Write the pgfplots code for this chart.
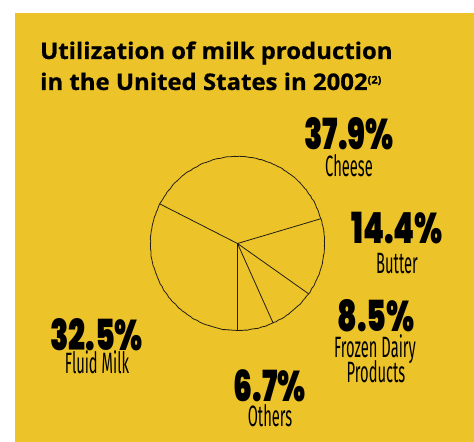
\documentclass[border=0pt]{standalone}
\usepackage{pgfplots}
\pgfplotsset{compat=1.18}
\usepackage{pgfplotstable}
\usepgfplotslibrary{polar}
\usetikzlibrary{decorations.pathmorphing}
\usepackage{fontspec}
\setmainfont{Open Sans}
\newfontfamily\titlefont{Open Sans}[BoldFeatures={FakeBold=0.6, FakeStretch=1.045}]
\newfontfamily\pctfont{Poppins Black}[FakeStretch=0.7]
\newfontfamily\lblfont{Fira Sans}[FakeStretch=0.5]
\definecolor{panel}{RGB}{236,195,41}
\definecolor{ink}{RGB}{35,30,20}
\newcommand{\pct}[1]{\smash{\pctfont\fontsize{43}{43}\selectfont #1}}
\newcommand{\lbl}[1]{\smash{\lblfont\fontsize{29.5}{30}\selectfont #1}}

% cumulative share (%) at each slice boundary, starting at 6 o'clock:
% Others 6.7, Frozen Dairy 8.5, Butter 14.4, Cheese 37.9, Fluid Milk 32.5
\pgfplotstableread{
cum r
0 1
0 0
6.7 1
6.7 0
15.2 1
15.2 0
29.6 1
29.6 0
67.5 1
}\boundaries

\begin{document}
\begin{tikzpicture}
\useasboundingbox (0,0) rectangle (474bp,442bp);
\fill[white] (0,0) rectangle (474bp,442bp);
\fill[panel] (15bp,0) rectangle (474bp,429bp);

\begin{polaraxis}[
  at={(237.5bp,198.5bp)}, anchor=center,
  width=174bp, height=174bp, scale only axis,
  xtick=\empty, ytick=\empty, grid=none,
  ymin=0, ymax=1,
  y axis line style={draw=none},
  x axis line style={draw=ink, line width=0.8pt, decorate,
    decoration={random steps, segment length=2.5pt, amplitude=0.35pt}},
  clip=false,
]
\addplot[no marks, draw=ink, line width=0.8pt, line join=round]
  table[x expr={-90+3.6*\thisrow{cum}}, y=r] {\boundaries};
\end{polaraxis}

\node[anchor=base west, inner sep=0] at (40bp,383bp)
  {\titlefont\bfseries\fontsize{23}{26}\selectfont Utilization of milk production};
\node[anchor=base west, inner sep=0] at (40bp,352bp)
  {\titlefont\bfseries\fontsize{23}{26}\selectfont in the United States in 2002\raisebox{6.5pt}{\fontsize{10.5}{10.5}\selectfont (2)}};

\node[anchor=base, inner sep=0] at (349bp,292bp) {\pct{37.9\%}};
\node[anchor=base, inner sep=0] at (349bp,265bp) {\lbl{Cheese}};
\node[anchor=base, inner sep=0] at (397bp,198bp) {\pct{14.4\%}};
\node[anchor=base, inner sep=0] at (397bp,168bp) {\lbl{Butter}};
\node[anchor=base, inner sep=0] at (376bp,110bp) {\pct{8.5\%}};
\node[anchor=base, inner sep=0] at (375bp,84bp) {\lbl{Frozen Dairy}};
\node[anchor=base, inner sep=0] at (376bp,59bp) {\lbl{Products}};
\node[anchor=base, inner sep=0] at (96.5bp,91bp) {\pct{32.5\%}};
\node[anchor=base, inner sep=0] at (97bp,68bp) {\lbl{Fluid Milk}};
\node[anchor=base, inner sep=0] at (269.5bp,40bp) {\pct{6.7\%}};
\node[anchor=base, inner sep=0] at (270bp,16bp) {\lbl{Others}};
\end{tikzpicture}
\end{document}
